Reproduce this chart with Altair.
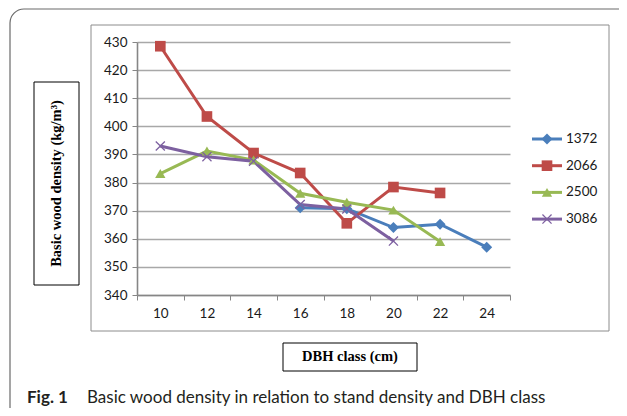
import altair as alt
import pandas as pd

# ---- data ----
dbh = [10, 12, 14, 16, 18, 20, 22, 24]
series_names = ["1372", "2066", "2500", "3086"]
s1372 = [None, None, None, 371, 370.7, 364, 365.2, 357]
s2066 = [428.5, 403.5, 390.5, 383.4, 365.5, 378.4, 376.3, None]
s2500 = [383.2, 391.2, 388, 376.2, 373, 370.2, 359, None]
s3086 = [393, 389.2, 387.6, 372.2, 370.6, 359.2, None, None]
colors = ["#4A7EBB", "#BE4B48", "#98B954", "#7D60A0"]
y_ticks = [340, 350, 360, 370, 380, 390, 400, 410, 420, 430]
x_ticks = [9, 11, 13, 15, 17, 19, 21, 23, 25]

XPATH = ("M-1,-0.82L-0.82,-1L0,-0.18L0.82,-1L1,-0.82L0.18,0L1,0.82L0.82,1"
         "L0,0.18L-0.82,1L-1,0.82L-0.18,0Z")
shapes = ["diamond", "square", "triangle-up", XPATH]
sizes = [120, 100, 125, 110]

rows = []
for name, vals in zip(series_names, [s1372, s2066, s2500, s3086]):
    for d, v in zip(dbh, vals):
        if v is not None:
            rows.append({"series": name, "dbh": d, "density": v})
df = pd.DataFrame(rows)
leg = pd.DataFrame({"series": series_names, "i": list(range(len(series_names)))})
dummy = pd.DataFrame({"k": [0]})

FONT = "Lato"
color_enc = alt.Color("series:N", scale=alt.Scale(domain=series_names, range=colors), legend=None)
shape_enc = alt.Shape("series:N", scale=alt.Scale(domain=series_names, range=shapes), legend=None)
size_enc = alt.Size("series:N", scale=alt.Scale(domain=series_names, range=sizes), legend=None)

x_axis = alt.Axis(values=x_ticks, grid=False, title=None,
                  labelExpr="datum.value < 25 ? '' + (datum.value + 1) : ''",
                  labelOffset=23.3, labelFlush=False, labelOverlap=False,
                  tickSize=5, tickColor="#868686", domainColor="#868686",
                  domainWidth=1.6, tickWidth=1, labelFont=FONT, labelFontSize=13.5,
                  labelColor="#1a1a1a", labelPadding=6)
y_axis = alt.Axis(values=y_ticks, tickCount=10, grid=True, gridColor="#a8a8a8", gridWidth=1.3,
                  title=None, labelFlush=False, labelOverlap=False,
                  tickSize=5, tickColor="#868686", domainColor="#868686",
                  domainWidth=1.6, labelFont=FONT, labelFontSize=13.5,
                  labelColor="#1a1a1a", labelPadding=5)
x_enc = alt.X("dbh:Q", scale=alt.Scale(domain=[9, 25], nice=False, zero=False), axis=x_axis)
y_enc = alt.Y("density:Q", scale=alt.Scale(domain=[340, 430], nice=False, zero=False), axis=y_axis)

# ---- decoration ----
outer = alt.Chart(dummy).mark_rect(cornerRadius=14, fillOpacity=0, stroke="#6a6a6a",
                                   strokeWidth=1.2).encode(
    x=alt.value(-127), x2=alt.value(540), y=alt.value(-33), y2=alt.value(385))
inner = alt.Chart(dummy).mark_rect(fillOpacity=0, stroke="#8c8c8c", strokeWidth=1).encode(
    x=alt.value(-46), x2=alt.value(472), y=alt.value(-17), y2=alt.value(289))
ybox = alt.Chart(dummy).mark_rect(fill="white", stroke="black", strokeWidth=1).encode(
    x=alt.value(-103), x2=alt.value(-58), y=alt.value(40), y2=alt.value(243))
xbox = alt.Chart(dummy).mark_rect(fill="white", stroke="black", strokeWidth=1).encode(
    x=alt.value(146), x2=alt.value(280), y=alt.value(301), y2=alt.value(329))
ytitle = alt.Chart(dummy).mark_text(angle=270, font="Liberation Serif", fontWeight="bold",
                                    fontSize=14.5, color="black", baseline="middle",
                                    align="center").encode(
    x=alt.value(-80.5), y=alt.value(141.5), text=alt.value("Basic wood density (kg/m³)"))
xtitle = alt.Chart(dummy).mark_text(font="Liberation Serif", fontWeight="bold",
                                    fontSize=14.5, color="black", baseline="middle",
                                    align="center").encode(
    x=alt.value(213), y=alt.value(315), text=alt.value("DBH class (cm)"))
cap1 = alt.Chart(dummy).mark_text(font=FONT, fontWeight="bold", fontSize=17, color="#231f20",
                                  align="left", baseline="alphabetic").encode(
    x=alt.value(-110), y=alt.value(361), text=alt.value("Fig. 1"))
cap2 = alt.Chart(dummy).mark_text(font=FONT, fontSize=17, color="#231f20",
                                  align="left", baseline="alphabetic").encode(
    x=alt.value(-50), y=alt.value(361),
    text=alt.value("Basic wood density in relation to stand density and DBH class"))

# ---- data marks ----
lines = alt.Chart(df).mark_line(strokeWidth=3).encode(x=x_enc, y=y_enc, color=color_enc)
points = alt.Chart(df).mark_point(filled=True, opacity=1).encode(
    x=x_enc, y=y_enc, color=color_enc, shape=shape_enc, size=size_enc)

# ---- legend ----
leg_base = alt.Chart(leg).transform_calculate(ly="97 + datum.i * 26.7")
leg_lines = leg_base.mark_rule(strokeWidth=3).encode(
    x=alt.value(395), x2=alt.value(425), y=alt.Y("ly:Q", scale=None), color=color_enc)
leg_pts = leg_base.mark_point(filled=True, opacity=1).encode(
    x=alt.value(410), y=alt.Y("ly:Q", scale=None), color=color_enc, shape=shape_enc,
    size=alt.Size("series:N", scale=alt.Scale(domain=series_names, range=[90, 90, 95, 85]),
                  legend=None))
leg_txt = leg_base.mark_text(align="left", baseline="middle", font=FONT, fontSize=13.5,
                             color="#1a1a1a").encode(
    x=alt.value(429), y=alt.Y("ly:Q", scale=None), text="series:N")

chart = alt.layer(outer, inner, ybox, xbox, ytitle, xtitle, cap1, cap2,
                  lines, points, leg_lines, leg_pts, leg_txt).properties(
    width=373, height=253,
    padding={"left": 129, "top": 34, "right": 109, "bottom": 113},
    autosize=alt.AutoSizeParams(type="none"),
    background="white",
).configure_view(stroke=None)

chart.save("out.html", embed_options={"renderer": "svg", "actions": False})
